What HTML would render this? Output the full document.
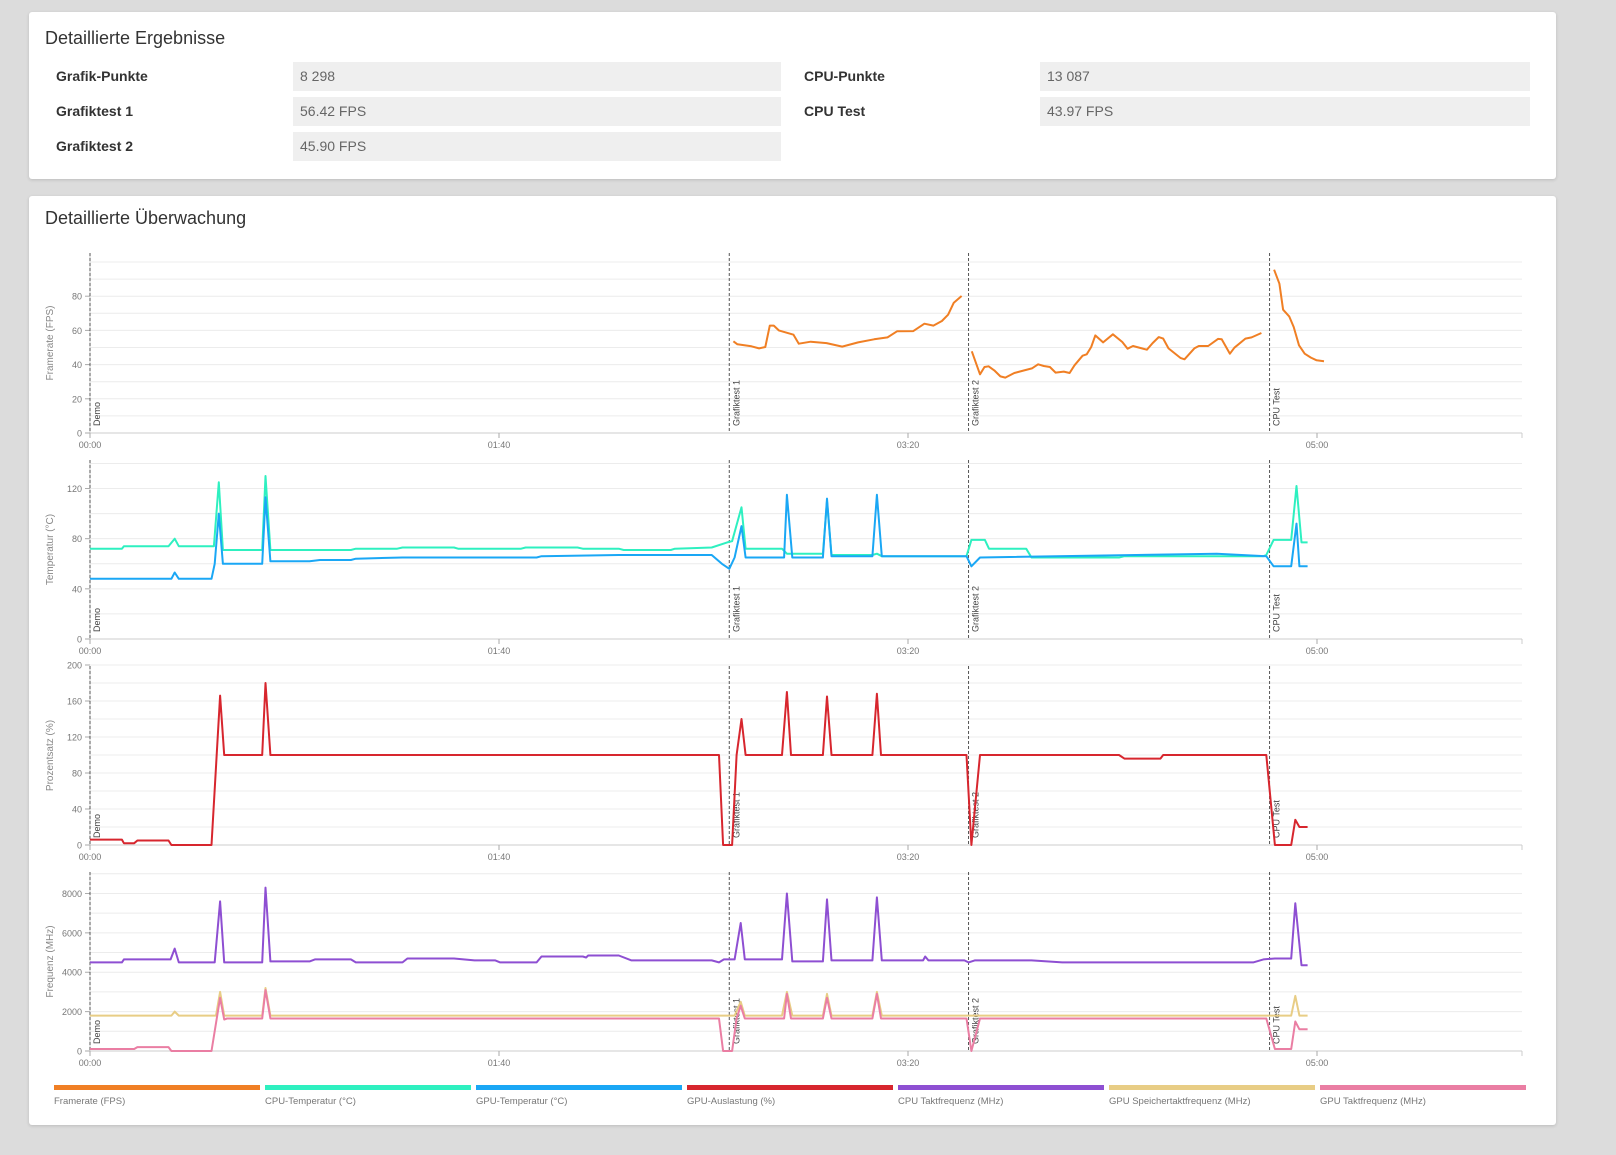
<!DOCTYPE html>
<html><head><meta charset="utf-8">
<style>
body{margin:0;width:1616px;height:1155px;background:#dcdcdc;font-family:"Liberation Sans",sans-serif;overflow:hidden;position:relative}
.card{position:absolute;background:#fff;border-radius:3px;box-shadow:0 1px 3px rgba(0,0,0,.15)}
.title{position:absolute;left:16px;font-size:18px;color:#333}
.lbl{position:absolute;font-size:14px;font-weight:bold;color:#333}
.val{position:absolute;height:29px;background:#efefef;font-size:14px;color:#666;line-height:29px;padding-left:7px;box-sizing:border-box}
</style></head><body>
<div class="card" style="left:29px;top:12px;width:1527px;height:167px">
 <div class="title" style="top:16px">Detaillierte Ergebnisse</div>
 <div class="lbl" style="left:27px;top:56px">Grafik-Punkte</div>
 <div class="val" style="left:264px;top:50px;width:488px">8 298</div>
 <div class="lbl" style="left:27px;top:91px">Grafiktest 1</div>
 <div class="val" style="left:264px;top:85px;width:488px">56.42 FPS</div>
 <div class="lbl" style="left:27px;top:126px">Grafiktest 2</div>
 <div class="val" style="left:264px;top:120px;width:488px">45.90 FPS</div>
 <div class="lbl" style="left:775px;top:56px">CPU-Punkte</div>
 <div class="val" style="left:1011px;top:50px;width:490px">13 087</div>
 <div class="lbl" style="left:775px;top:91px">CPU Test</div>
 <div class="val" style="left:1011px;top:85px;width:490px">43.97 FPS</div>
</div>
<div class="card" style="left:29px;top:196px;width:1527px;height:929px">
 <div class="title" style="top:12px">Detaillierte Überwachung</div>
</div>
<svg id="chart" width="1616" height="1155" style="position:absolute;left:0;top:0" font-family="Liberation Sans, sans-serif"></svg>
<script>
const markerNames=["Demo","Grafiktest 1","Grafiktest 2","CPU Test"];
const markerTimes=[0,156.3,214.8,288.4];
const xTickLabels=["00:00","01:40","03:20","05:00"];
const xTickTimes=[0,100,200,300];
const fpsT=[157.3,158.3,161.7,163.6,165.1,166.2,167.2,168.4,172,173.3,176.2,180.1,183.9,187.8,191.7,195,197.3,201.3,204,206.2,208.3,209.8,211.2,213.1,null,215.6,217.6,218.7,219.7,221.1,222.6,223.8,226,228.4,230.3,231.8,233.2,234.7,236.1,238.1,239.5,240.7,242.7,243.7,244.8,245.8,247.7,250.1,252.4,253.7,255,258.4,259.8,261.3,262.4,263.7,265.1,266.6,267.6,270,271.1,273.4,275.8,276.7,278.7,279.8,282.5,284,286.4,null,289.5,290.8,291.7,293.2,294.3,295.6,297,298.5,299.9,301.7];
const fpsV=[53.6,51.9,50.7,49.5,50.3,62.8,62.8,60,57.5,52.2,53.4,52.6,50.5,53,54.8,55.9,59.5,59.6,63.9,62.8,65.5,69.2,76.2,80.1,null,47.8,34.3,38.6,39,36.6,33.1,32.4,35.1,36.6,37.8,40.2,39.2,38.6,35.3,35.9,35.1,39.6,45.2,46,50.3,57.1,53,57.7,53.2,49.3,50.9,48.7,52.6,56.1,55.2,49.5,46.8,43.9,43.1,49.5,50.9,50.9,55,54.8,46.4,49.9,55.2,55.9,58.5,null,95.5,87.3,72.1,68.2,62,51.3,46.4,44.1,42.5,42];
const cpuTempT=[0,7.8,8.3,19.2,20.7,21.7,30.3,31.5,32.5,42.1,42.9,44.1,63.8,65,75.1,76.4,89,90,105.4,106.5,119.2,120.5,129.3,130.5,142,143,152,155.8,157,159.3,160.3,169.2,170.4,171.7,179.2,180.2,181.3,191.3,192.4,193.6,214.3,215.5,218.8,219.8,228.9,230.2,251.6,252.9,286.9,287.6,289.4,293.7,295,296.2,297.7];
const cpuTempV=[72,72,74,74,80,74,74,125,71,71,130,71,71,72,72,73,73,72,72,73,73,72,72,71,71,72,73,77,78,105,72,72,68,68,68,110,67,67,68,66,66,79,79,72,72,65,65,66,66,67,79,79,122,77,77];
const gpuTempT=[0,19.9,20.7,21.7,29.7,30.5,31.5,32.5,42.1,42.9,44.1,53.7,56.2,63.8,65,76.4,109.2,110.4,129.3,152,154.5,156.3,157.6,159.3,160.3,169.7,170.4,171.7,179.2,180.2,181.3,191.3,192.4,193.6,214.3,215.5,217.6,275.5,287.6,289.4,293.7,295,295.7,297.7];
const gpuTempV=[48,48,53,48,48,60,100,60,60,113,62,62,63,63,64,65,65,66,67,67,60,56,65,90,65,65,115,65,65,112,66,66,115,66,66,58,65,68,66,58,58,92,58,58];
const gpuLoadT=[0,7.8,8.3,10.8,11.6,19.2,19.9,29.7,31.8,32.8,42.1,42.9,44.1,153.8,154.8,157,158.1,159.3,160.3,169.2,170.4,171.4,179.2,180.2,181.3,191.3,192.4,193.4,214.3,215.5,217.6,251.6,252.9,261.7,262.4,287.6,289.7,293.7,294.7,295.7,297.7];
const gpuLoadV=[6,6,2,2,5,5,0,0,166,100,100,180,100,100,0,0,100,140,100,100,170,100,100,165,100,100,168,100,100,0,100,100,96,96,100,100,0,0,28,20,20];
const cpuFreqT=[0,7.8,8.3,19.7,20.7,21.7,30.5,31.8,32.8,42.1,42.9,44.1,53.7,55,63.8,65,76.4,77.6,89,94,99.1,100.3,109.2,110.4,120.5,121.3,121.8,129.3,132.4,152,153.8,155,157.6,159.1,160.1,169.2,170.4,171.7,179.2,180.2,181.3,191.3,192.4,193.6,203.7,204.2,205,213.8,214.8,216.3,230.2,237.7,284.4,286.9,289.7,293.7,294.7,296.2,297.7];
const cpuFreqV=[4500,4500,4650,4650,5200,4500,4500,7600,4500,4500,8300,4550,4550,4650,4650,4500,4500,4700,4700,4600,4600,4500,4500,4800,4800,4750,4850,4850,4600,4600,4500,4650,4650,6500,4650,4650,8000,4550,4550,7700,4600,4600,7800,4600,4600,4800,4600,4600,4500,4600,4600,4500,4500,4650,4700,4700,7500,4350,4350];
const gpuMemT=[0,19.9,20.7,21.7,30.8,31.8,32.8,42.1,42.9,44.1,157.6,159.1,160.1,169.2,170.4,171.7,179.2,180.2,181.3,191.3,192.4,193.6,293.7,294.7,295.7,297.7];
const gpuMemV=[1800,1800,2000,1800,1800,3000,1800,1800,3200,1800,1800,2500,1800,1800,3000,1800,1800,2900,1800,1800,3000,1800,1800,2800,1800,1800];
const gpuClkT=[0,10.8,11.6,19.2,19.9,29.7,31.8,32.8,33.5,42.1,42.9,44.1,153.8,154.8,157,158.1,159.1,160.1,169.7,170.4,171.4,179.2,180.2,181.3,191.3,192.4,193.4,214.3,215.5,217.6,287.6,289.7,293.7,294.7,295.7,297.7];
const gpuClkV=[100,100,200,200,0,0,2700,1600,1650,1650,3100,1650,1650,0,0,1650,2300,1650,1650,2900,1650,1650,2700,1650,1650,2900,1650,1650,0,1650,1650,100,100,1500,1100,1100];
const legendNames=["Framerate (FPS)","CPU-Temperatur (°C)","GPU-Temperatur (°C)","GPU-Auslastung (%)","CPU Taktfrequenz (MHz)","GPU Speichertaktfrequenz (MHz)","GPU Taktfrequenz (MHz)"];
const legendColors=["#f07f24","#2ef0c0","#1aa7f5","#d7262e","#8e4fd2","#e8cd85","#ea7ea3"];

const svg=document.getElementById('chart');
const NS='http://www.w3.org/2000/svg';
function el(tag,attrs,parent){const e=document.createElementNS(NS,tag);for(const k in attrs)e.setAttribute(k,attrs[k]);(parent||svg).appendChild(e);return e;}
const X0=90,PX=4.09,XEND=1522;
function xs(t){return X0+t*PX;}
const charts=[
 {name:'fps',title:'Framerate (FPS)',y0:433,top:253,per:1.71,ticks:[0,20,40,60,80],grid:10,max:105,series:[[fpsT,fpsV,0]]},
 {name:'temperature',title:'Temperatur (°C)',y0:639,top:460,per:1.254,ticks:[0,40,80,120],grid:20,max:143,series:[[cpuTempT,cpuTempV,1],[gpuTempT,gpuTempV,2]]},
 {name:'percentage',title:'Prozentsatz (%)',y0:845,top:666,per:0.9,ticks:[0,40,80,120,160,200],grid:20,max:200,series:[[gpuLoadT,gpuLoadV,3]]},
 {name:'frequency',title:'Frequenz (MHz)',y0:1051,top:872,per:0.01969,ticks:[0,2000,4000,6000,8000],grid:1000,max:9100,series:[[gpuMemT,gpuMemV,5],[gpuClkT,gpuClkV,6],[cpuFreqT,cpuFreqV,4]]}
];
charts.forEach(c=>{
 const g=el('g',{});
 
 
 const ys=v=>c.y0-v*c.per;
 for(let v=c.grid;v<=c.max;v+=c.grid){const l=el('line',{x1:X0,x2:XEND,y1:ys(v),y2:ys(v),stroke:'#ececec','stroke-width':1},g);}
 const ax=el('line',{x1:X0,x2:XEND,y1:c.y0,y2:c.y0,stroke:'#ccc','stroke-width':1},g);
 
 el('line',{x1:XEND,x2:XEND,y1:c.y0,y2:c.y0+5,stroke:'#ccc'},g);
 const ay=el('line',{x1:X0,x2:X0,y1:c.top,y2:c.y0,stroke:'#ccc'},g);
 
 c.ticks.forEach(v=>{
  el('line',{x1:X0-5,x2:X0,y1:ys(v),y2:ys(v),stroke:'#aaa'},g);
  const t=el('text',{x:X0-8,y:ys(v)+3.5,'font-size':9,fill:'#777','text-anchor':'end'},g);t.textContent=v;
  
 });
 xTickTimes.forEach((tt,i)=>{
  el('line',{x1:xs(tt),x2:xs(tt),y1:c.y0,y2:c.y0+5,stroke:'#aaa'},g);
  const t=el('text',{x:xs(tt),y:c.y0+15,'font-size':9,fill:'#777','text-anchor':'middle'},g);t.textContent=xTickLabels[i];
  
 });
 const yc=(c.top+c.y0)/2;
 const yt=el('text',{x:0,y:0,transform:`translate(53,${yc}) rotate(-90)`,'font-size':10,fill:'#888','text-anchor':'middle'},g);
 yt.textContent=c.title;
 markerTimes.forEach((mt,i)=>{
  const l=el('line',{x1:xs(mt),x2:xs(mt),y1:c.top,y2:c.y0,stroke:'#555','stroke-dasharray':'3,2','stroke-width':1},g);
  
  const t=el('text',{x:0,y:0,transform:`translate(${xs(mt)+10},${c.y0-7}) rotate(-90)`,'font-size':9,fill:'#444'},g);
  t.textContent=markerNames[i];
 });
 c.series.forEach(([T,V,ci])=>{
  let d='',pen=false;
  for(let i=0;i<T.length;i++){if(T[i]===null){pen=false;continue;}d+=(pen?'L':'M')+xs(T[i]).toFixed(1)+','+ys(V[i]).toFixed(1);pen=true;}
  const p=el('path',{d,fill:'none',stroke:legendColors[ci],'stroke-width':2,'stroke-linejoin':'round'},g);
  
 });
});
legendNames.forEach((n,i)=>{
 const x=54+i*211;
 const g=el('g',{});
 
 
 el('rect',{x,y:1085,width:206,height:5,fill:legendColors[i]},g);
 const t=el('text',{x,y:1104,'font-size':9.5,fill:'#777'},g);t.textContent=n;
});
</script>
</body></html>
